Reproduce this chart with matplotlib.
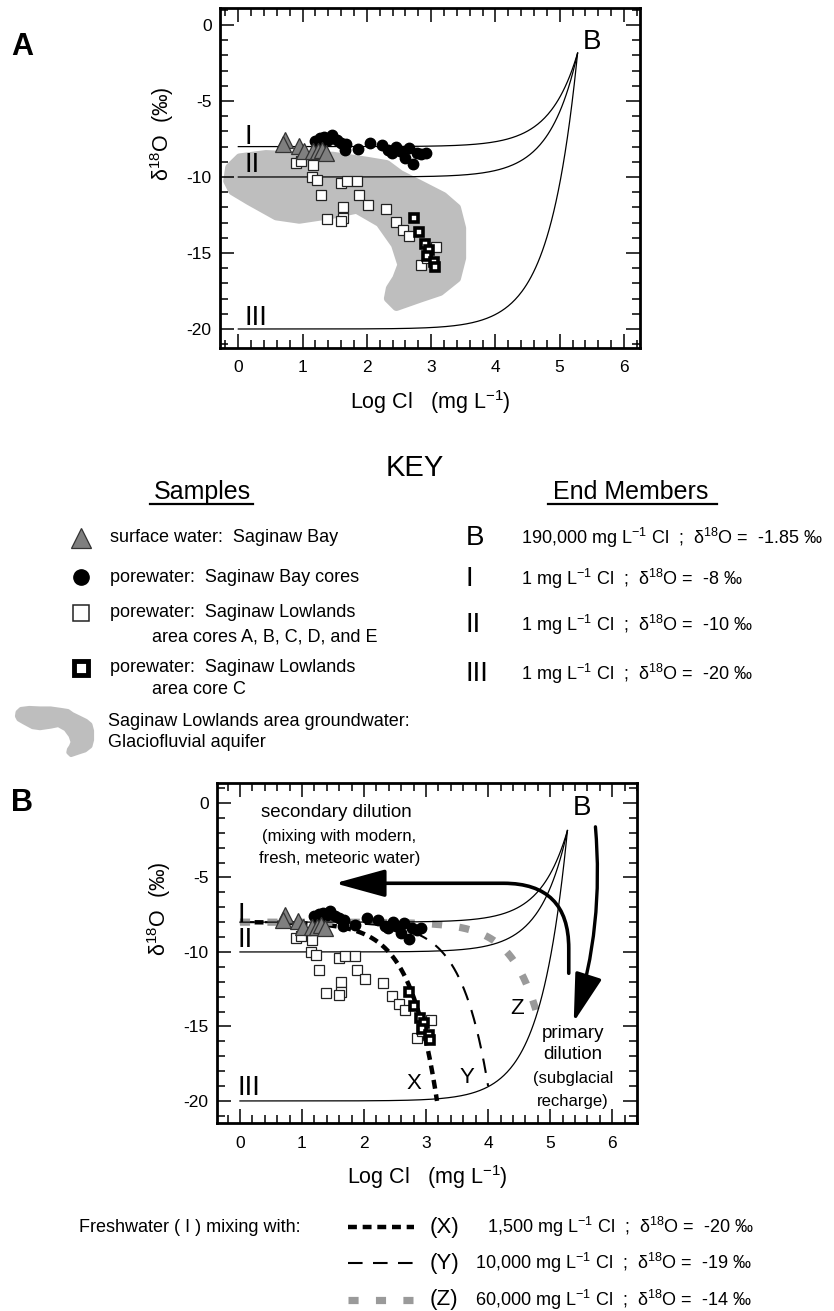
import numpy as np
import matplotlib.pyplot as plt
from matplotlib.patches import Polygon, FancyArrowPatch
from matplotlib.lines import Line2D
from matplotlib.ticker import MultipleLocator

plt.rcParams['font.family'] = ['Liberation Sans', 'DejaVu Sans']
plt.rcParams['mathtext.fontset'] = 'custom'
plt.rcParams['mathtext.rm'] = 'Liberation Sans'
plt.rcParams['mathtext.it'] = 'Liberation Sans:italic'
plt.rcParams['mathtext.bf'] = 'Liberation Sans:bold'
plt.rcParams['mathtext.default'] = 'regular'
plt.rcParams['axes.unicode_minus'] = False

W, H = 834, 1311

# --- samples (log Cl, d18O) ---
tri_x = [0.73, 0.70, 0.94, 1.02, 1.16, 1.24, 1.30, 1.37]
tri_y = [-7.55, -7.85, -7.95, -8.3, -8.3, -8.3, -8.2, -8.4]

circ_x = [1.19, 1.27, 1.27, 1.34, 1.40, 1.45, 1.53, 1.60, 1.66, 1.68, 1.86, 2.05,
          2.23, 2.33, 2.39, 2.46, 2.52, 2.59, 2.65, 2.72, 2.78, 2.85, 2.92]
circ_y = [-7.62, -7.44, -7.73, -7.40, -7.55, -7.22, -7.57, -7.73, -8.23, -7.84, -8.17, -7.73,
          -7.88, -8.23, -8.39, -8.01, -8.28, -8.72, -8.06, -9.16, -8.39, -8.5, -8.39]

sq_x = [0.90, 0.98, 1.16, 1.15, 1.23, 1.28, 1.60, 1.69, 1.85, 1.63, 1.63, 1.38, 1.59,
        1.88, 2.02, 2.30, 2.45, 2.56, 2.66, 3.08, 2.85, 2.93]
sq_y = [-9.05, -8.94, -9.23, -10.0, -10.2, -11.2, -10.4, -10.26, -10.26, -11.99, -12.7, -12.74, -12.9,
        -11.2, -11.83, -12.1, -12.96, -13.47, -13.9, -14.6, -15.8, -15.3]

coreC_x = [2.73, 2.81, 2.90, 2.97, 2.93, 3.04, 3.06]
coreC_y = [-12.7, -13.64, -14.4, -14.8, -15.2, -15.6, -15.9]

# groundwater field outline (glaciofluvial aquifer)
blob_x = [0.02, 0.43, 0.95, 1.47, 2.0, 2.31, 2.52, 2.83, 3.19, 3.40, 3.48, 3.48, 3.40, 3.14,
          2.83, 2.46, 2.33, 2.36, 2.46, 2.54, 2.44, 2.20, 1.84, 1.47, 0.95, 0.59, 0.17, -0.09,
          -0.17, -0.14]
blob_y = [-8.72, -8.5, -8.61, -8.61, -8.94, -9.16, -9.82, -10.48, -11.26, -12.03, -13.36, -15.34,
          -16.67, -17.55, -17.99, -18.54, -17.99, -17.33, -16.67, -15.78, -14.46, -13.02, -12.14,
          -12.47, -12.8, -12.58, -11.59, -10.93, -10.26, -9.38]

# --- end members ---
B_cl, B_d18o = 190000.0, -1.85
fresh_cl = 1.0
fresh_names = ['I', 'II', 'III']
fresh_d18o = [-8.0, -10.0, -20.0]

mix_names = ['X', 'Y', 'Z']
mix_cl = [1500.0, 10000.0, 60000.0]
mix_d18o = [-20.0, -19.0, -14.0]


def mixing(c1, d1, c2, d2, n=300):
    lc = np.linspace(np.log10(c1), np.log10(c2), n)
    f = (10 ** lc - c1) / (c2 - c1)
    return lc, d1 + f * (d2 - d1)


def fx(x):
    return x / W


def fy(y):
    return 1 - y / H


fig = plt.figure(figsize=(W / 100, H / 100), dpi=100)
ax1 = fig.add_axes([fx(220), fy(348), 420 / W, 340 / H])
ax2 = fig.add_axes([fx(217), fy(1123), 420 / W, 340 / H])


def setup(ax, xlim, ylim):
    ax.set_xlim(*xlim)
    ax.set_ylim(*ylim)
    ax.xaxis.set_major_locator(MultipleLocator(1))
    ax.xaxis.set_minor_locator(MultipleLocator(0.2))
    ax.yaxis.set_major_locator(MultipleLocator(5))
    ax.yaxis.set_minor_locator(MultipleLocator(1))
    ax.tick_params(which='both', direction='in', top=True, right=True, width=1.1)
    ax.tick_params(which='major', length=10, labelsize=12.5)
    ax.tick_params(which='minor', length=6)
    ax.tick_params(axis='x', pad=9)
    ax.tick_params(axis='y', pad=6)
    for s in ax.spines.values():
        s.set_linewidth(2)
    ax.set_xlabel('Log Cl   (mg L$^{-1}$)', fontsize=15.5, labelpad=9)
    ax.set_ylabel('δ$^{18}$O  (‰)', fontsize=15.5)
    ax.yaxis.set_label_coords(-0.105, 0.63)


def draw_samples(ax):
    ax.plot(sq_x, sq_y, 's', ms=6.5, mfc='white', mec='#222222', mew=0.9, zorder=4)
    ax.plot(coreC_x, coreC_y, 's', ms=6, mfc='white', mec='black', mew=2.6, zorder=4)
    ax.plot(circ_x, circ_y, 'o', ms=7.5, color='black', zorder=5)
    ax.plot(tri_x, tri_y, '^', ms=11.5, mfc='#7f7f7f', mec='#333333', mew=0.9, zorder=6)


def draw_members(ax, lab_x, lab_ys):
    for name, d, ly in zip(fresh_names, fresh_d18o, lab_ys):
        lc, dd = mixing(fresh_cl, d, B_cl, B_d18o)
        ax.plot(lc, dd, color='black', lw=0.9, zorder=3)
        ax.text(lab_x, ly, name, fontsize=20, ha='left', va='center')


# ---------- panel A ----------
setup(ax1, (-0.285, 6.25), (-21.25, 1.12))
ax1.add_patch(Polygon(np.column_stack([blob_x, blob_y]), closed=True, fc='#bebebe',
                      ec='#bebebe', lw=6, joinstyle='round', zorder=1))
draw_members(ax1, 0.1, [-7.4, -9.2, -19.3])
draw_samples(ax1)
ax1.text(5.51, -1.12, 'B', fontsize=20, ha='center', va='center')

# ---------- panel B ----------
setup(ax2, (-0.37, 6.40), (-21.48, 1.34))
draw_members(ax2, -0.04, [-7.5, -9.2, -19.1])

styles = [dict(color='black', lw=3.2, ls=(0, (2.0, 1.3)), dash_capstyle='butt'),
          dict(color='black', lw=1.5, ls=(0, (7.0, 5.0)), dash_capstyle='butt'),
          dict(color='#9a9a9a', lw=5.2, ls=(0, (1.4, 2.4)), dash_capstyle='butt')]
for c, d, st in zip(mix_cl, mix_d18o, styles):
    lc, dd = mixing(fresh_cl, fresh_d18o[0], c, d)
    ax2.plot(lc, dd, zorder=2, **st)

draw_samples(ax2)
ax2.text(5.51, -0.34, 'B', fontsize=20, ha='center', va='center')
ax2.text(2.80, -18.8, 'X', fontsize=16, ha='center', va='center')
ax2.text(3.66, -18.4, 'Y', fontsize=16, ha='center', va='center')
ax2.text(4.46, -13.8, 'Z', fontsize=16, ha='center', va='center')

ax2.text(1.56, -0.67, 'secondary dilution', fontsize=13.5, ha='center', va='center')
ax2.text(1.60, -2.28, '(mixing with modern,', fontsize=12, ha='center', va='center')
ax2.text(1.60, -3.76, 'fresh, meteoric water)', fontsize=12, ha='center', va='center')

ax2.text(5.37, -15.46, 'primary', fontsize=13.5, ha='center', va='center')
ax2.text(5.37, -16.9, 'dilution', fontsize=13.5, ha='center', va='center')
ax2.text(5.37, -18.48, '(subglacial', fontsize=12, ha='center', va='center')
ax2.text(5.37, -20.05, 'recharge)', fontsize=12, ha='center', va='center')

sec = FancyArrowPatch((5.30, -11.43), (1.53, -5.39),
                      connectionstyle='angle,angleA=90,angleB=0,rad=65',
                      arrowstyle='-|>,head_length=31,head_width=8.5',
                      lw=2.6, color='black', shrinkA=0, shrinkB=0, zorder=7)
ax2.add_patch(sec)
pri = FancyArrowPatch((5.73, -1.6), (5.38, -14.7),
                      connectionstyle='arc3,rad=-0.1',
                      arrowstyle='-|>,head_length=30,head_width=8.5',
                      lw=2.4, color='black', shrinkA=0, shrinkB=0, zorder=7)
ax2.add_patch(pri)

# ---------- panel letters ----------
fig.text(fx(22), fy(47), 'A', fontsize=22, fontweight='bold', ha='center', va='center')
fig.text(fx(22), fy(803), 'B', fontsize=22, fontweight='bold', ha='center', va='center')

# ---------- key ----------
fig.text(fx(415), fy(468), 'KEY', fontsize=21, ha='center', va='center')
fig.text(fx(202), fy(492), 'Samples', fontsize=18, ha='center', va='center')
fig.text(fx(631), fy(492), 'End Members', fontsize=18, ha='center', va='center')
fig.add_artist(Line2D([fx(150), fx(253)], [fy(504), fy(504)], color='black', lw=1.6))
fig.add_artist(Line2D([fx(548), fx(717)], [fy(504), fy(504)], color='black', lw=1.6))

kx = fx(81)
fig.add_artist(Line2D([kx], [fy(538)], marker='^', ms=15, mfc='#7f7f7f', mec='#333333', mew=0.9))
fig.add_artist(Line2D([kx], [fy(577)], marker='o', ms=11, color='black'))
fig.add_artist(Line2D([kx], [fy(613)], marker='s', ms=11, mfc='white', mec='#222222', mew=1.1))
fig.add_artist(Line2D([kx], [fy(668)], marker='s', ms=10, mfc='white', mec='black', mew=3.5))

bx = np.array(blob_x)
by = np.array(blob_y)
ix = 17 + (bx - bx.min()) / (bx.max() - bx.min()) * 75
iy = 755 - (by - by.min()) / (by.max() - by.min()) * 47
fig.add_artist(Polygon(np.column_stack([fx(ix), fy(iy)]), closed=True, fc='#bebebe',
                       ec='#bebebe', lw=3, joinstyle='round', transform=fig.transFigure))

ks = 13
fig.text(fx(110), fy(538), 'surface water:  Saginaw Bay', fontsize=ks, va='center')
fig.text(fx(110), fy(577), 'porewater:  Saginaw Bay cores', fontsize=ks, va='center')
fig.text(fx(110), fy(612), 'porewater:  Saginaw Lowlands', fontsize=ks, va='center')
fig.text(fx(152), fy(637), 'area cores A, B, C, D, and E', fontsize=ks, va='center')
fig.text(fx(110), fy(667), 'porewater:  Saginaw Lowlands', fontsize=ks, va='center')
fig.text(fx(152), fy(690), 'area core C', fontsize=ks, va='center')
fig.text(fx(108), fy(722), 'Saginaw Lowlands area groundwater:', fontsize=ks, va='center')
fig.text(fx(108), fy(743), 'Glaciofluvial aquifer', fontsize=ks, va='center')

em_labels = ['B', 'I', 'II', 'III']
em_texts = ['190,000 mg L$^{-1}$ Cl  ;  δ$^{18}$O =  -1.85 ‰',
            '1 mg L$^{-1}$ Cl  ;  δ$^{18}$O =  -8 ‰',
            '1 mg L$^{-1}$ Cl  ;  δ$^{18}$O =  -10 ‰',
            '1 mg L$^{-1}$ Cl  ;  δ$^{18}$O =  -20 ‰']
em_y = [538, 579, 625, 674]
for lab, txt, yy in zip(em_labels, em_texts, em_y):
    fig.text(fx(466), fy(yy), lab, fontsize=20, va='center')
    fig.text(fx(521), fy(yy), txt, fontsize=ks, va='center')

# ---------- bottom legend ----------
fig.text(fx(79), fy(1227), 'Freshwater ( I ) mixing with:', fontsize=ks, va='center')
mix_text = ['1,500 mg L$^{-1}$ Cl  ;  δ$^{18}$O =  -20 ‰',
            '10,000 mg L$^{-1}$ Cl  ;  δ$^{18}$O =  -19 ‰',
            '60,000 mg L$^{-1}$ Cl  ;  δ$^{18}$O =  -14 ‰']
leg_y = [1227, 1263, 1300]
txt_x = [487, 475, 475]
for name, txt, st, yy, tx in zip(mix_names, mix_text, styles, leg_y, txt_x):
    fig.add_artist(Line2D([fx(348), fx(414)], [fy(yy), fy(yy)], **st))
    fig.text(fx(430), fy(yy), '(' + name + ')', fontsize=16, va='center')
    fig.text(fx(tx), fy(yy), txt, fontsize=ks, va='center')

fig.savefig('out.png', dpi=100)
